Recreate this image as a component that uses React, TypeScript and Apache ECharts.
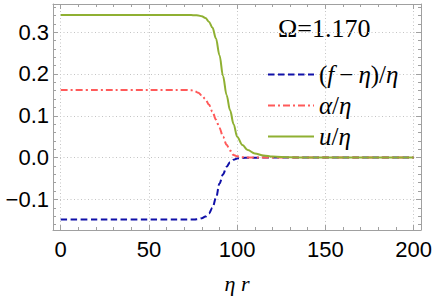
import React, { useEffect, useRef } from "react";
import * as echarts from "echarts";

// sample positions (η r)
const rValues = [0, 20, 40, 60, 70, 74, 76, 78, 80, 82, 84, 86, 88, 90, 92, 94, 96, 98, 100, 103, 106, 110, 115, 120, 130, 140, 160, 180, 200];
// (f−η)/η
const fSeries = [-0.148, -0.148, -0.148, -0.148, -0.148, -0.148, -0.1478, -0.147, -0.145, -0.141, -0.134, -0.12, -0.097, -0.062, -0.04, -0.022, -0.011, -0.005, -0.002, -0.0008, -0.0003, -0.0001, 0, 0, 0, 0, 0, 0, 0];
// α/η
const alphaSeries = [0.162, 0.162, 0.162, 0.162, 0.162, 0.161, 0.159, 0.155, 0.149, 0.14, 0.127, 0.11, 0.091, 0.071, 0.05, 0.031, 0.017, 0.006, 0.003, 0.001, 0.0004, 0.0001, 0, 0, 0, 0, 0, 0, 0];
// u/η
const uSeries = [0.341, 0.341, 0.341, 0.341, 0.341, 0.341, 0.3405, 0.34, 0.338, 0.334, 0.325, 0.311, 0.285, 0.245, 0.195, 0.15, 0.113, 0.08, 0.05, 0.03, 0.018, 0.01, 0.005, 0.0025, 0.0007, 0.0002, 0, 0, 0];

const seriesNames = ["(f−η)/η", "α/η", "u/η"];
const xMajor = [0, 50, 100, 150, 200];
const xMinor = [10, 20, 30, 40, 60, 70, 80, 90, 110, 120, 130, 140, 160, 170, 180, 190];
const yMajor = [-0.1, 0, 0.1, 0.2, 0.3];
const yMinor = [-0.16, -0.14, -0.12, -0.08, -0.06, -0.04, -0.02, 0.02, 0.04, 0.06, 0.08, 0.12, 0.14, 0.16, 0.18, 0.22, 0.24, 0.26, 0.28, 0.32, 0.34, 0.36];
const omegaLabel = "Ω=1.170";

const X_MIN = -4.36;
const X_MAX = 204.2;
const Y_MIN = -0.1731;
const Y_MAX = 0.3674;

const FRAME = "#a0a0a0";
const SERIF = '"Liberation Serif", "Times New Roman", serif';
const SANS = '"Liberation Sans", Arial, sans-serif';

function legendText(name: string): string {
  if (name === "(f−η)/η") return "{n|(}{i|f}{n|\u2009−\u2009}{i|η}{n|)/}{i|η}";
  if (name === "α/η") return "{i|α}{n|/}{i|η}";
  return "{i|u}{n|/}{i|η}";
}

export default function App() {
  const ref = useRef<HTMLDivElement>(null);
  useEffect(() => {
    if (!ref.current) return;
    const chart = echarts.init(ref.current, undefined, { renderer: "svg" });
    const mk = (vals: number[]) => rValues.map((r, i) => [r, vals[i]]);

    const xBase = (pos: string, values: number[], len: number, showLine: boolean, labels: boolean, split: boolean) => ({
      type: "value",
      min: X_MIN,
      max: X_MAX,
      position: pos,
      axisLine: { show: showLine, onZero: false, lineStyle: { color: FRAME, width: 1 } },
      axisTick: { show: true, inside: true, length: len, customValues: values, lineStyle: { color: FRAME, width: 1 } },
      axisLabel: labels
        ? { show: true, customValues: values, fontSize: 22, fontFamily: SANS, color: "#000", margin: 8, formatter: (v: number) => String(v) }
        : { show: false },
      splitLine: split ? { show: true, lineStyle: { color: "#c4c4c4", type: [1, 2.5], width: 1 } } : { show: false },
    });
    const yBase = (pos: string, values: number[], len: number, showLine: boolean, labels: boolean, split: boolean) => ({
      type: "value",
      min: Y_MIN,
      max: Y_MAX,
      position: pos,
      axisLine: { show: showLine, onZero: false, lineStyle: { color: FRAME, width: 1 } },
      axisTick: { show: true, inside: true, length: len, customValues: values, lineStyle: { color: FRAME, width: 1 } },
      axisLabel: labels
        ? {
            show: true,
            customValues: values,
            fontSize: 22,
            fontFamily: SANS,
            color: "#000",
            margin: 4,
            formatter: (v: number) => v.toFixed(1).replace("-", "−"),
          }
        : { show: false },
      splitLine: split ? { show: true, lineStyle: { color: "#c4c4c4", type: [1, 2.5], width: 1 } } : { show: false },
    });

    const xAxes: any[] = [
      { ...xBase("bottom", xMajor, 5, true, true, true), name: "η r", nameLocation: "middle", nameGap: 42, nameTextStyle: { fontFamily: SERIF, fontStyle: "italic", fontSize: 22, color: "#000" } },
      xBase("bottom", xMinor, 3, false, false, false),
      xBase("top", xMajor, 5, true, false, false),
      xBase("top", xMinor, 3, false, false, false),
    ];
    const yAxes: any[] = [
      yBase("left", yMajor, 5, true, true, true),
      yBase("left", yMinor, 3, false, false, false),
      yBase("right", yMajor, 5, true, false, false),
      yBase("right", yMinor, 3, false, false, false),
    ];

    const rich = {
      n: { fontFamily: SERIF, fontSize: 25, color: "#000" },
      i: { fontFamily: SERIF, fontStyle: "italic", fontSize: 25, color: "#000" },
    };

    chart.setOption({
      animation: false,
      grid: { left: 53, right: 15, top: 4, bottom: 68, containLabel: false },
      xAxis: xAxes,
      yAxis: yAxes,
      legend: {
        show: true,
        orient: "vertical",
        left: 262,
        top: 57,
        itemWidth: 46,
        itemHeight: 14,
        itemGap: 6,
        data: seriesNames,
        itemStyle: { opacity: 0 },
        formatter: (name: string) => legendText(name),
        textStyle: { rich, lineHeight: 24 },
      },
      graphic: [
        {
          type: "text",
          x: 278,
          y: 28,
          style: { text: omegaLabel, font: `26px ${SERIF}`, fill: "#000", verticalAlign: "middle" },
        },
      ],
      series: [
        {
          name: seriesNames[0],
          type: "line",
          data: mk(fSeries),
          showSymbol: false,
          symbol: "none",
          smooth: 0.35,
          smoothMonotone: "x",
          lineStyle: { color: "#1010a8", width: 2, type: [6.5, 3.5] },
          itemStyle: { color: "#1010a8" },
        },
        {
          name: seriesNames[1],
          type: "line",
          data: mk(alphaSeries),
          showSymbol: false,
          symbol: "none",
          smooth: 0.35,
          smoothMonotone: "x",
          lineStyle: { color: "#ff5a5a", width: 2, type: [7, 3, 2, 3] },
          itemStyle: { color: "#ff5a5a" },
        },
        {
          name: seriesNames[2],
          type: "line",
          data: mk(uSeries),
          showSymbol: false,
          symbol: "none",
          smooth: 0.35,
          smoothMonotone: "x",
          lineStyle: { color: "#8fb032", width: 2 },
          itemStyle: { color: "#8fb032" },
        },
      ],
    });
    return () => chart.dispose();
  }, []);
  return <div ref={ref} style={{ width: 436, height: 299, position: "absolute", left: 0, top: 0 }} />;
}
